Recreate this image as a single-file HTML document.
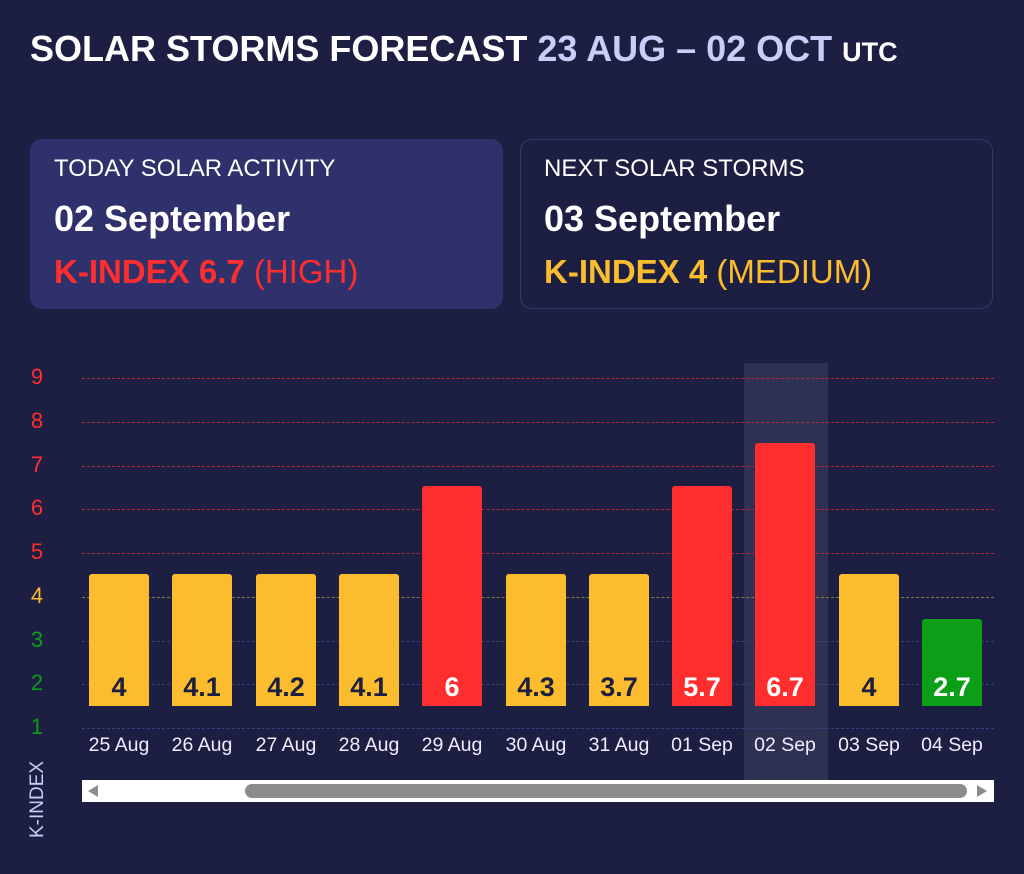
<!DOCTYPE html>
<html><head><meta charset="utf-8"><style>
*{margin:0;padding:0;box-sizing:border-box}
body{width:1024px;height:874px;background:#1d1f42;font-family:"Liberation Sans",Arial,sans-serif;position:relative;overflow:hidden;color:#fff}
.a{position:absolute;white-space:nowrap}
.t{left:30px;top:28px;font-size:36px;font-weight:bold;letter-spacing:0}
.card{position:absolute;top:139px;width:473px;height:170px;border-radius:12px}
.lab{left:24px;top:16px;font-size:24px}
.date{left:24px;top:59px;font-size:36px;font-weight:bold}
.k{left:24px;top:114px;font-size:33px}
.gl{position:absolute;left:82px;width:912px;height:0;border-top:1px dashed}
.yl{position:absolute;left:27px;width:20px;text-align:center;font-size:22px}
.bar{position:absolute;width:60px;border-radius:3px 3px 0 0;bottom:168px;text-align:center;font-weight:bold;font-size:27px}
.bar span{position:absolute;left:0;right:0;bottom:3px}
.xl{position:absolute;top:734px;width:84px;text-align:center;font-size:19.5px;color:#eef}
</style></head><body>
<div class="a t">SOLAR STORMS FORECAST <span style="color:#c9cdf7">23 AUG – 02 OCT</span> <span style="font-size:27px">UTC</span></div>
<div class="card" style="left:30px;background:#2e316b">
<div class="a lab">TODAY SOLAR ACTIVITY</div>
<div class="a date">02 September</div>
<div class="a k" style="color:#ff2e2e"><b>K-INDEX 6.7</b> (HIGH)</div>
</div>
<div class="card" style="left:520px;border:1.5px solid #34386e">
<div class="a lab" style="left:23px;top:15px">NEXT SOLAR STORMS</div>
<div class="a date" style="left:23px;top:58px">03 September</div>
<div class="a k" style="left:23px;top:113px;color:#fbbd2e"><b>K-INDEX 4</b> (MEDIUM)</div>
</div>
<div style="position:absolute;left:744px;top:363px;width:84px;height:417px;background:#2e3152"></div>
<div class="gl" style="top:378px;border-color:#b0283a"></div>
<div class="gl" style="top:422px;border-color:#b0283a"></div>
<div class="gl" style="top:466px;border-color:#b0283a"></div>
<div class="gl" style="top:509px;border-color:#b0283a"></div>
<div class="gl" style="top:553px;border-color:#b0283a"></div>
<div class="gl" style="top:597px;border-color:#8a7a45"></div>
<div class="gl" style="top:641px;border-color:#3a3f7a"></div>
<div class="gl" style="top:684px;border-color:#3a3f7a"></div>
<div class="gl" style="top:728px;border-color:#3a3f7a"></div>
<div class="yl" style="top:364px;color:#ff2e2e">9</div>
<div class="yl" style="top:408px;color:#ff2e2e">8</div>
<div class="yl" style="top:452px;color:#ff2e2e">7</div>
<div class="yl" style="top:495px;color:#ff2e2e">6</div>
<div class="yl" style="top:539px;color:#ff2e2e">5</div>
<div class="yl" style="top:583px;color:#fbbd2e">4</div>
<div class="yl" style="top:627px;color:#0a9f16">3</div>
<div class="yl" style="top:670px;color:#0a9f16">2</div>
<div class="yl" style="top:714px;color:#0a9f16">1</div>
<div class="bar" style="left:89px;height:132px;background:#fbbd2e;color:#1d1f42"><span>4</span></div>
<div class="bar" style="left:172px;height:132px;background:#fbbd2e;color:#1d1f42"><span>4.1</span></div>
<div class="bar" style="left:256px;height:132px;background:#fbbd2e;color:#1d1f42"><span>4.2</span></div>
<div class="bar" style="left:339px;height:132px;background:#fbbd2e;color:#1d1f42"><span>4.1</span></div>
<div class="bar" style="left:422px;height:220px;background:#ff2e2e"><span>6</span></div>
<div class="bar" style="left:506px;height:132px;background:#fbbd2e;color:#1d1f42"><span>4.3</span></div>
<div class="bar" style="left:589px;height:132px;background:#fbbd2e;color:#1d1f42"><span>3.7</span></div>
<div class="bar" style="left:672px;height:220px;background:#ff2e2e"><span>5.7</span></div>
<div class="bar" style="left:755px;height:263px;background:#ff2e2e"><span>6.7</span></div>
<div class="bar" style="left:839px;height:132px;background:#fbbd2e;color:#1d1f42"><span>4</span></div>
<div class="bar" style="left:922px;height:87px;background:#0a9f16"><span>2.7</span></div>
<div class="xl" style="left:77px">25 Aug</div>
<div class="xl" style="left:160px">26 Aug</div>
<div class="xl" style="left:244px">27 Aug</div>
<div class="xl" style="left:327px">28 Aug</div>
<div class="xl" style="left:410px">29 Aug</div>
<div class="xl" style="left:494px">30 Aug</div>
<div class="xl" style="left:577px">31 Aug</div>
<div class="xl" style="left:660px">01 Sep</div>
<div class="xl" style="left:743px">02 Sep</div>
<div class="xl" style="left:827px">03 Sep</div>
<div class="xl" style="left:910px">04 Sep</div>
<div style="position:absolute;left:82px;top:780px;width:912px;height:22px;background:#fff"></div>
<div style="position:absolute;left:245px;top:784px;width:722px;height:14px;border-radius:7px;background:#8c8c8c"></div>
<div style="position:absolute;left:88px;top:785px;width:0;height:0;border-top:6px solid transparent;border-bottom:6px solid transparent;border-right:10px solid #8c8c8c"></div>
<div style="position:absolute;left:977px;top:785px;width:0;height:0;border-top:6px solid transparent;border-bottom:6px solid transparent;border-left:10px solid #8c8c8c"></div>
<div class="a" style="font-size:19px;color:#c9cdf7;transform:rotate(-90deg);transform-origin:0 0;top:838px;left:27px">K-INDEX</div>
</body></html>
